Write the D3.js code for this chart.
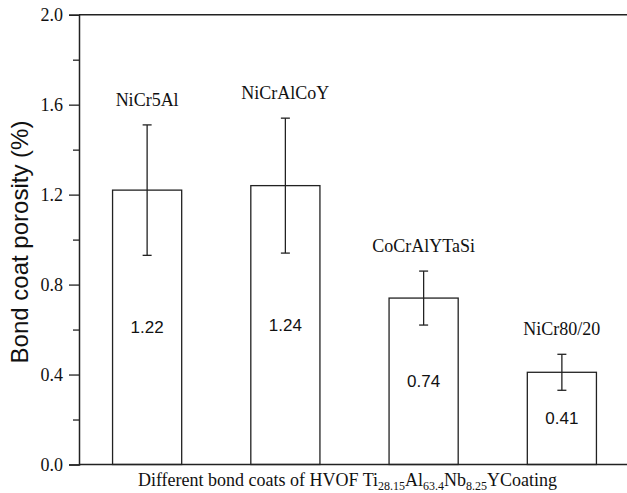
<!DOCTYPE html>
<html><head><meta charset="utf-8">
<script src="https://cdn.jsdelivr.net/npm/d3@7"></script>
<style>body{margin:0;background:#fff}svg{display:block}</style>
</head><body>
<svg id="c" width="627" height="493"></svg>
<script>
const categories = ["NiCr5Al", "NiCrAlCoY", "CoCrAlYTaSi", "NiCr80/20"];
const porosity = [1.22, 1.24, 0.74, 0.41];
const errors = [0.29, 0.30, 0.12, 0.08];
const valueLabels = ["1.22", "1.24", "0.74", "0.41"];
const yMajorTicks = [0.0, 0.4, 0.8, 1.2, 1.6, 2.0];
const yMinorTicks = [0.2, 0.6, 1.0, 1.4, 1.8];

(function () {
const svg = d3.select("#c");
const mLeft = 79, mTop = 14.7, mBottom = 464.5, mRight = 627;
const x = d3.scaleBand().domain(categories).range([78, 631]).paddingInner(0.5).paddingOuter(0.25);
const y = d3.scaleLinear().domain([0, 2]).range([mBottom, mTop]);
const ink = "#222";
const serif = "'Liberation Serif', 'Times New Roman', serif";
const sans = "'Liberation Sans', Arial, sans-serif";

// bars
svg.append("g").selectAll("rect").data(categories).join("rect")
  .attr("x", d => x(d)).attr("width", x.bandwidth())
  .attr("y", (d, i) => y(porosity[i]))
  .attr("height", (d, i) => y(0) - y(porosity[i]))
  .attr("fill", "#fff").attr("stroke", ink).attr("stroke-width", 1.3);

// error bars
const eb = svg.append("g").attr("stroke", ink).attr("stroke-width", 1.3);
categories.forEach((c, i) => {
  const cx = x(c) + x.bandwidth() / 2;
  const hi = y(porosity[i] + errors[i]), lo = y(porosity[i] - errors[i]);
  eb.append("line").attr("x1", cx).attr("x2", cx).attr("y1", hi).attr("y2", lo);
  eb.append("line").attr("x1", cx - 4.5).attr("x2", cx + 4.5).attr("y1", hi).attr("y2", hi);
  eb.append("line").attr("x1", cx - 4.5).attr("x2", cx + 4.5).attr("y1", lo).attr("y2", lo);
});

// category labels above error bars
svg.append("g").selectAll("text").data(categories).join("text")
  .attr("x", d => x(d) + x.bandwidth() / 2)
  .attr("y", (d, i) => y(porosity[i] + errors[i]) - 19)
  .attr("text-anchor", "middle")
  .style("font-family", serif)
  .attr("font-size", 18).attr("fill", "#111")
  .text(d => d);

// value labels inside bars
svg.append("g").selectAll("text").data(categories).join("text")
  .attr("x", d => x(d) + x.bandwidth() / 2)
  .attr("y", (d, i) => y(porosity[i] / 2) + 6)
  .attr("text-anchor", "middle")
  .style("font-family", sans)
  .attr("font-size", 17).attr("fill", "#111")
  .text((d, i) => valueLabels[i]);

// frame lines
const fr = svg.append("g").attr("stroke", ink).attr("stroke-width", 1.5);
fr.append("line").attr("x1", mLeft).attr("x2", mRight).attr("y1", mTop).attr("y2", mTop);
fr.append("line").attr("x1", mLeft).attr("x2", mRight).attr("y1", mBottom).attr("y2", mBottom);

// y axis
const ya = svg.append("g").attr("transform", `translate(${mLeft},0)`)
  .call(d3.axisLeft(y).tickValues(yMajorTicks).tickFormat(d3.format(".1f")).tickSize(10).tickPadding(6));
ya.select(".domain").attr("stroke", ink).attr("stroke-width", 1.5);
ya.selectAll(".tick line").attr("stroke", ink).attr("stroke-width", 1.3);
ya.selectAll(".tick text").style("font-family", serif)
  .attr("font-size", 18).attr("fill", "#111");
const ym = svg.append("g").attr("transform", `translate(${mLeft},0)`)
  .call(d3.axisLeft(y).tickValues(yMinorTicks).tickFormat("").tickSize(6));
ym.select(".domain").remove();
ym.selectAll(".tick line").attr("stroke", ink).attr("stroke-width", 1.3);

// y title
svg.append("text")
  .attr("transform", `translate(28,242) rotate(-90)`)
  .attr("text-anchor", "middle")
  .style("font-family", sans)
  .attr("font-size", 24).attr("fill", "#111")
  .text("Bond coat porosity (%)");

// x title with subscripts
const xt = svg.append("text")
  .attr("x", 347.5).attr("y", 486)
  .attr("text-anchor", "middle")
  .style("font-family", serif)
  .attr("font-size", 18).attr("fill", "#111");
const parts = [["Different bond coats of HVOF Ti", 0], ["28.15", 1], ["Al", 0], ["63.4", 1], ["Nb", 0], ["8.25", 1], ["YCoating", 0]];
let prevSub = 0;
parts.forEach(([t, s]) => {
  const dy = s && !prevSub ? 4 : (!s && prevSub ? -4 : 0);
  xt.append("tspan").attr("dy", dy).attr("font-size", s ? 12 : 18).text(t);
  prevSub = s;
});
})();
</script>
</body></html>
